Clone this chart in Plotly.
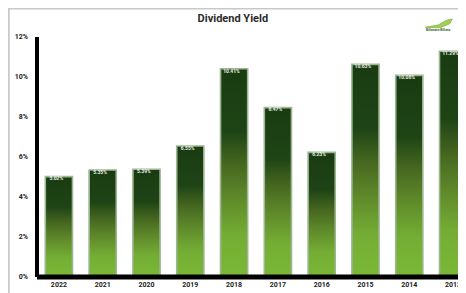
import plotly.graph_objects as go

years = ["2022", "2021", "2020", "2019", "2018", "2017", "2016", "2015", "2014", "2013"]
yields = [5.02, 5.35, 5.39, 6.55, 10.41, 8.47, 6.23, 10.63, 10.08, 11.29]
y_ticks = [0, 2, 4, 6, 8, 10, 12]
y_ticklabels = ["0%", "2%", "4%", "6%", "8%", "10%", "12%"]

half = 0.31
grad = [[0, "#7ab836"], [0.2, "#74ad34"], [0.4, "#5c8529"], [0.55, "#44651f"],
        [0.7, "#1e4416"], [1, "#1a3b12"]]

fig = go.Figure()
for i, v in enumerate(yields):
    fig.add_trace(go.Scatter(
        x=[i - half, i - half, i + half, i + half, i - half],
        y=[0, v, v, 0, 0],
        mode="lines", fill="toself",
        fillgradient=dict(type="vertical", colorscale=grad),
        line=dict(color="#9db592", width=1.6),
        hoverinfo="skip", showlegend=False,
    ))

fig.add_trace(go.Scatter(
    x=[i - 0.06 for i in range(len(years))], y=yields, mode="text",
    text=[f"{v:.2f}%" for v in yields], textposition="bottom center",
    textfont=dict(family="Roboto", size=5, color="#e8efe2", weight="bold"),
    hoverinfo="skip", showlegend=False,
))

fig.update_layout(
    width=458, height=285,
    margin=dict(l=29, r=0, t=29, b=16),
    paper_bgcolor="white", plot_bgcolor="white",
    title=dict(text="<b>Dividend Yield</b>", x=0.491, xanchor="center", y=0.965, yanchor="middle",
               font=dict(family="Roboto", size=11, color="#2b2b2b")),
    xaxis=dict(range=[-0.5, 9.295], tickvals=list(range(len(years))), ticktext=years,
               showgrid=False, zeroline=False, showline=False, ticks="",
               tickfont=dict(family="Roboto", size=7, color="#222", weight="bold"),
               ticklabelstandoff=2),
    yaxis=dict(range=[0, 12], tickvals=y_ticks, ticktext=y_ticklabels,
               showgrid=False, zeroline=False, showline=False, ticks="",
               tickfont=dict(family="Roboto", size=7, color="#222", weight="bold"),
               ticklabelstandoff=8),
    shapes=[
        dict(type="line", xref="paper", yref="paper", x0=0, x1=0, y0=0, y1=1.0,
             line=dict(color="black", width=4)),
        dict(type="line", xref="paper", yref="paper", x0=0, x1=1, y0=0, y1=0,
             line=dict(color="black", width=5)),
        dict(type="rect", xref="paper", yref="paper", x0=-0.066, x1=1.2, y0=-0.3, y1=1.119,
             line=dict(color="#c8c8c8", width=2), fillcolor="rgba(0,0,0,0)", layer="below"),
        dict(type="path", xref="paper", yref="paper",
             path="M 0.905 1.04 L 0.935 1.05 L 0.955 1.07 L 0.968 1.075 L 0.962 1.055 L 0.94 1.04 Z",
             line=dict(color="#8fc24a", width=1), fillcolor="#9fd05a"),
    ],
    annotations=[
        dict(text="<b>Billionaire Billions</b>", xref="paper", yref="paper", x=0.935, y=1.028,
             showarrow=False, font=dict(family="Roboto", size=3, color="#2e5a1a"),
             xanchor="center", yanchor="middle"),
    ],
)

fig.write_html("out.html")
